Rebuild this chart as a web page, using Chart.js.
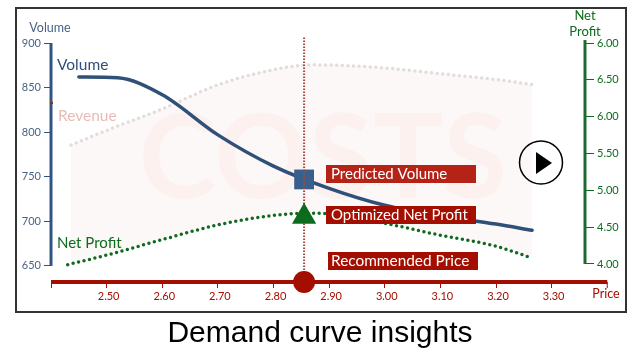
<!DOCTYPE html>
<html>
<head>
<meta charset="utf-8">
<title>Demand curve insights</title>
<script src="https://cdn.jsdelivr.net/npm/chart.js@4"></script>
<style>
  html, body { margin: 0; padding: 0; background: #fff; }
  canvas { display: block; }
</style>
</head>
<body>
<canvas id="myChart" width="640" height="360"></canvas>
<script>
const volumePrices = [2.45, 2.52, 2.60, 2.70, 2.80, 2.90, 3.00, 3.10, 3.20, 3.265];
const volumeValues = [862, 861, 842, 797, 762, 737, 718, 706, 697, 690];

const revenuePrices = [2.436, 2.50, 2.60, 2.70, 2.80, 2.87, 3.00, 3.10, 3.20, 3.27];
const revenueValues = [785.5, 802, 826, 853, 870, 875.5, 872, 865.5, 859, 853];

const profitPrices = [2.43, 2.50, 2.60, 2.70, 2.80, 2.87, 3.00, 3.10, 3.20, 3.265];
const profitValues = [3.99, 4.12, 4.33, 4.53, 4.66, 4.69, 4.55, 4.39, 4.24, 4.08];

const recommendedPrice = 2.855;
const predictedVolume = 747;
const optimizedProfit = 4.64;

const priceTicks = [2.40, 2.50, 2.60, 2.70, 2.80, 2.90, 3.00, 3.10, 3.20, 3.30];
const priceLabels = ['', '2.50', '2.60', '2.70', '2.80', '2.90', '3.00', '3.10', '3.20', '3.30'];
const volumeTicks = [650, 700, 750, 800, 850, 900];
const profitTicks = [4, 4.5, 5, 5.5, 6, 6.5, 7];
// the top label really does read 6.00 in the picture
const profitLabels = ['4.00', '4.50', '5.00', '5.50', '6.00', '6.50', '6.00'];

function points(xs, ys) {
  return xs.map((x, i) => ({ x: x, y: ys[i] }));
}

const FONT = 'Lato, sans-serif';
const BLUE = '#2f4f7b';
const GREEN = '#0c6b1c';
const RED = '#a30e00';

function drawText(ctx, text, x, y, size, color, align) {
  ctx.font = size + 'px ' + FONT;
  ctx.fillStyle = color;
  ctx.textAlign = align || 'left';
  ctx.textBaseline = 'alphabetic';
  ctx.fillText(text, x, y);
}

function drawTag(ctx, text, x, y, w, h, color, pad, size) {
  ctx.fillStyle = color;
  ctx.fillRect(x, y, w, h);
  drawText(ctx, text, x + pad, y + h - 4, size, '#fff');
}

const decorations = {
  id: 'decorations',
  beforeDraw(chart) {
    const ctx = chart.ctx;
    ctx.save();
    ctx.strokeStyle = '#333';
    ctx.lineWidth = 2;
    ctx.strokeRect(16, 8, 610, 304);
    ctx.restore();
  },
  beforeDatasetsDraw(chart) {
    // watermark sits on the fill, under the lines
    const ctx = chart.ctx;
    ctx.save();
    ctx.font = '700 117px ' + FONT;
    ctx.fillStyle = '#fcf1ee';
    ctx.textAlign = 'center';
    ctx.textBaseline = 'alphabetic';
    ctx.fillText('COSTS', 323, 198);
    ctx.restore();
  },
  afterDatasetsDraw(chart) {
    const ctx = chart.ctx;
    const xs = chart.scales.x;
    ctx.save();

    drawText(ctx, 'Volume', 50, 32, 12.5, '#4a6285', 'center');
    drawText(ctx, 'Net', 585, 20, 13, GREEN, 'center');
    drawText(ctx, 'Profit', 585, 36, 13, GREEN, 'center');
    drawText(ctx, 'Price', 606, 298, 12.5, RED, 'center');

    drawText(ctx, 'Volume', 57, 70, 15.5, BLUE);
    drawText(ctx, 'Revenue', 58, 121, 15.5, '#e8bcb5');
    drawText(ctx, 'Net Profit', 57, 248, 15, GREEN);

    drawTag(ctx, 'Predicted Volume', 326, 165, 150, 18, '#b52317', 5, 15);
    drawTag(ctx, 'Optimized Net Profit', 326, 206, 150, 18, RED, 5, 15);
    drawTag(ctx, 'Recommended Price', 328, 252, 150, 18, RED, 3, 15.4);

    // last tick of the price axis, past the right hand scale
    const endX = xs.getPixelForValue(3.40);
    ctx.strokeStyle = RED;
    ctx.lineWidth = 1;
    ctx.beginPath();
    ctx.moveTo(endX, 282);
    ctx.lineTo(endX, 288);
    ctx.stroke();

    // small brown nick on the volume spine
    ctx.fillStyle = '#7a3a10';
    ctx.fillRect(50, 102, 3, 2);

    // play button
    ctx.strokeStyle = '#000';
    ctx.lineWidth = 1.5;
    ctx.beginPath();
    ctx.arc(541, 162.5, 21.5, 0, Math.PI * 2);
    ctx.stroke();
    ctx.fillStyle = '#000';
    ctx.beginPath();
    ctx.moveTo(536, 152);
    ctx.lineTo(552, 163);
    ctx.lineTo(536, 174);
    ctx.closePath();
    ctx.fill();

    ctx.restore();
  }
};

new Chart(document.getElementById('myChart'), {
  type: 'line',
  plugins: [decorations],
  data: {
    datasets: [
      {
        data: points([recommendedPrice], [632]),
        yAxisID: 'y',
        pointStyle: 'circle',
        pointRadius: 11,
        pointBackgroundColor: RED,
        pointBorderWidth: 0,
        clip: false
      },
      {
        data: points([recommendedPrice], [optimizedProfit]),
        yAxisID: 'y2',
        pointStyle: 'triangle',
        pointRadius: 14,
        pointBackgroundColor: GREEN,
        pointBorderWidth: 0
      },
      {
        data: points([recommendedPrice, recommendedPrice], [632, 907]),
        yAxisID: 'y',
        borderColor: '#a3483e',
        borderWidth: 2,
        borderDash: [1.5, 1.5],
        pointRadius: 0,
        clip: false
      },
      {
        data: points([recommendedPrice], [predictedVolume]),
        yAxisID: 'y',
        pointStyle: 'rect',
        pointRadius: 14,
        pointBackgroundColor: '#39608d',
        pointBorderWidth: 0
      },
      {
        data: points(volumePrices, volumeValues),
        yAxisID: 'y',
        borderColor: '#2f5078',
        borderWidth: 3.5,
        borderCapStyle: 'round',
        cubicInterpolationMode: 'monotone',
        pointRadius: 0
      },
      {
        data: points(profitPrices, profitValues),
        yAxisID: 'y2',
        borderColor: '#0f6a20',
        borderWidth: 3.5,
        borderCapStyle: 'round',
        borderDash: [0, 5.6],
        cubicInterpolationMode: 'monotone',
        pointRadius: 0
      },
      {
        data: points(revenuePrices, revenueValues),
        yAxisID: 'y',
        borderColor: '#e2dcdc',
        borderWidth: 3.5,
        borderCapStyle: 'round',
        borderDash: [0, 5.6],
        cubicInterpolationMode: 'monotone',
        pointRadius: 0,
        fill: { target: 5 },
        backgroundColor: '#fdf8f8'
      },
      // axis spines, they stop short of the plot area so the scale border can't do it
      {
        data: points([2.40, 2.40], [650, 900]),
        yAxisID: 'y',
        borderColor: '#2f5582',
        borderWidth: 3,
        pointRadius: 0,
        clip: false
      },
      {
        data: points([3.36, 3.36], [4, 7.04]),
        yAxisID: 'y2',
        borderColor: '#1d6a2e',
        borderWidth: 3,
        pointRadius: 0,
        clip: false
      },
      {
        data: points([2.40, 3.40], [632, 632]),
        yAxisID: 'y',
        borderColor: RED,
        borderWidth: 4,
        pointRadius: 0,
        clip: false
      }
    ]
  },
  options: {
    responsive: false,
    animation: false,
    layout: { padding: { top: 43, left: 0, right: 0, bottom: 0 } },
    plugins: {
      legend: { display: false },
      tooltip: { enabled: false },
      filler: { drawTime: 'beforeDatasetsDraw' },
      title: {
        display: true,
        position: 'bottom',
        text: 'Demand curve insights',
        color: '#000',
        font: { family: '"Liberation Sans", Arial, sans-serif', size: 30, weight: 'normal' },
        padding: { top: 4, bottom: 8 }
      }
    },
    scales: {
      x: {
        type: 'linear',
        min: 2.40,
        max: 3.36,
        afterBuildTicks(scale) { scale.ticks = priceTicks.map(v => ({ value: v })); },
        afterFit(scale) { scale.height = 30; },
        border: { display: false },
        grid: { drawOnChartArea: false, tickLength: 6, color: RED, tickColor: RED },
        ticks: {
          color: RED,
          font: { family: FONT, size: 11 },
          padding: 2,
          labelOffset: 2,
          autoSkip: false,
          maxRotation: 0,
          callback: (value, index) => priceLabels[index]
        }
      },
      y: {
        position: 'left',
        min: 632,
        max: 900,
        afterBuildTicks(scale) { scale.ticks = volumeTicks.map(v => ({ value: v })); },
        afterFit(scale) { scale.width = 51; },
        border: { display: false },
        grid: { drawOnChartArea: false, tickLength: 7, color: '#2f5582', tickColor: '#2f5582' },
        ticks: {
          color: '#4a6285',
          font: { family: FONT, size: 11 },
          padding: 3,
          autoSkip: false,
          callback: value => value
        }
      },
      y2: {
        position: 'right',
        min: 3.755,
        max: 7,
        afterBuildTicks(scale) { scale.ticks = profitTicks.map(v => ({ value: v })); },
        afterFit(scale) { scale.width = 55; },
        border: { display: false },
        grid: { drawOnChartArea: false, tickLength: 9, color: GREEN, tickColor: GREEN },
        ticks: {
          color: GREEN,
          font: { family: FONT, size: 11 },
          padding: 3,
          autoSkip: false,
          callback: (value, index) => profitLabels[index]
        }
      }
    }
  }
});
</script>
</body>
</html>
